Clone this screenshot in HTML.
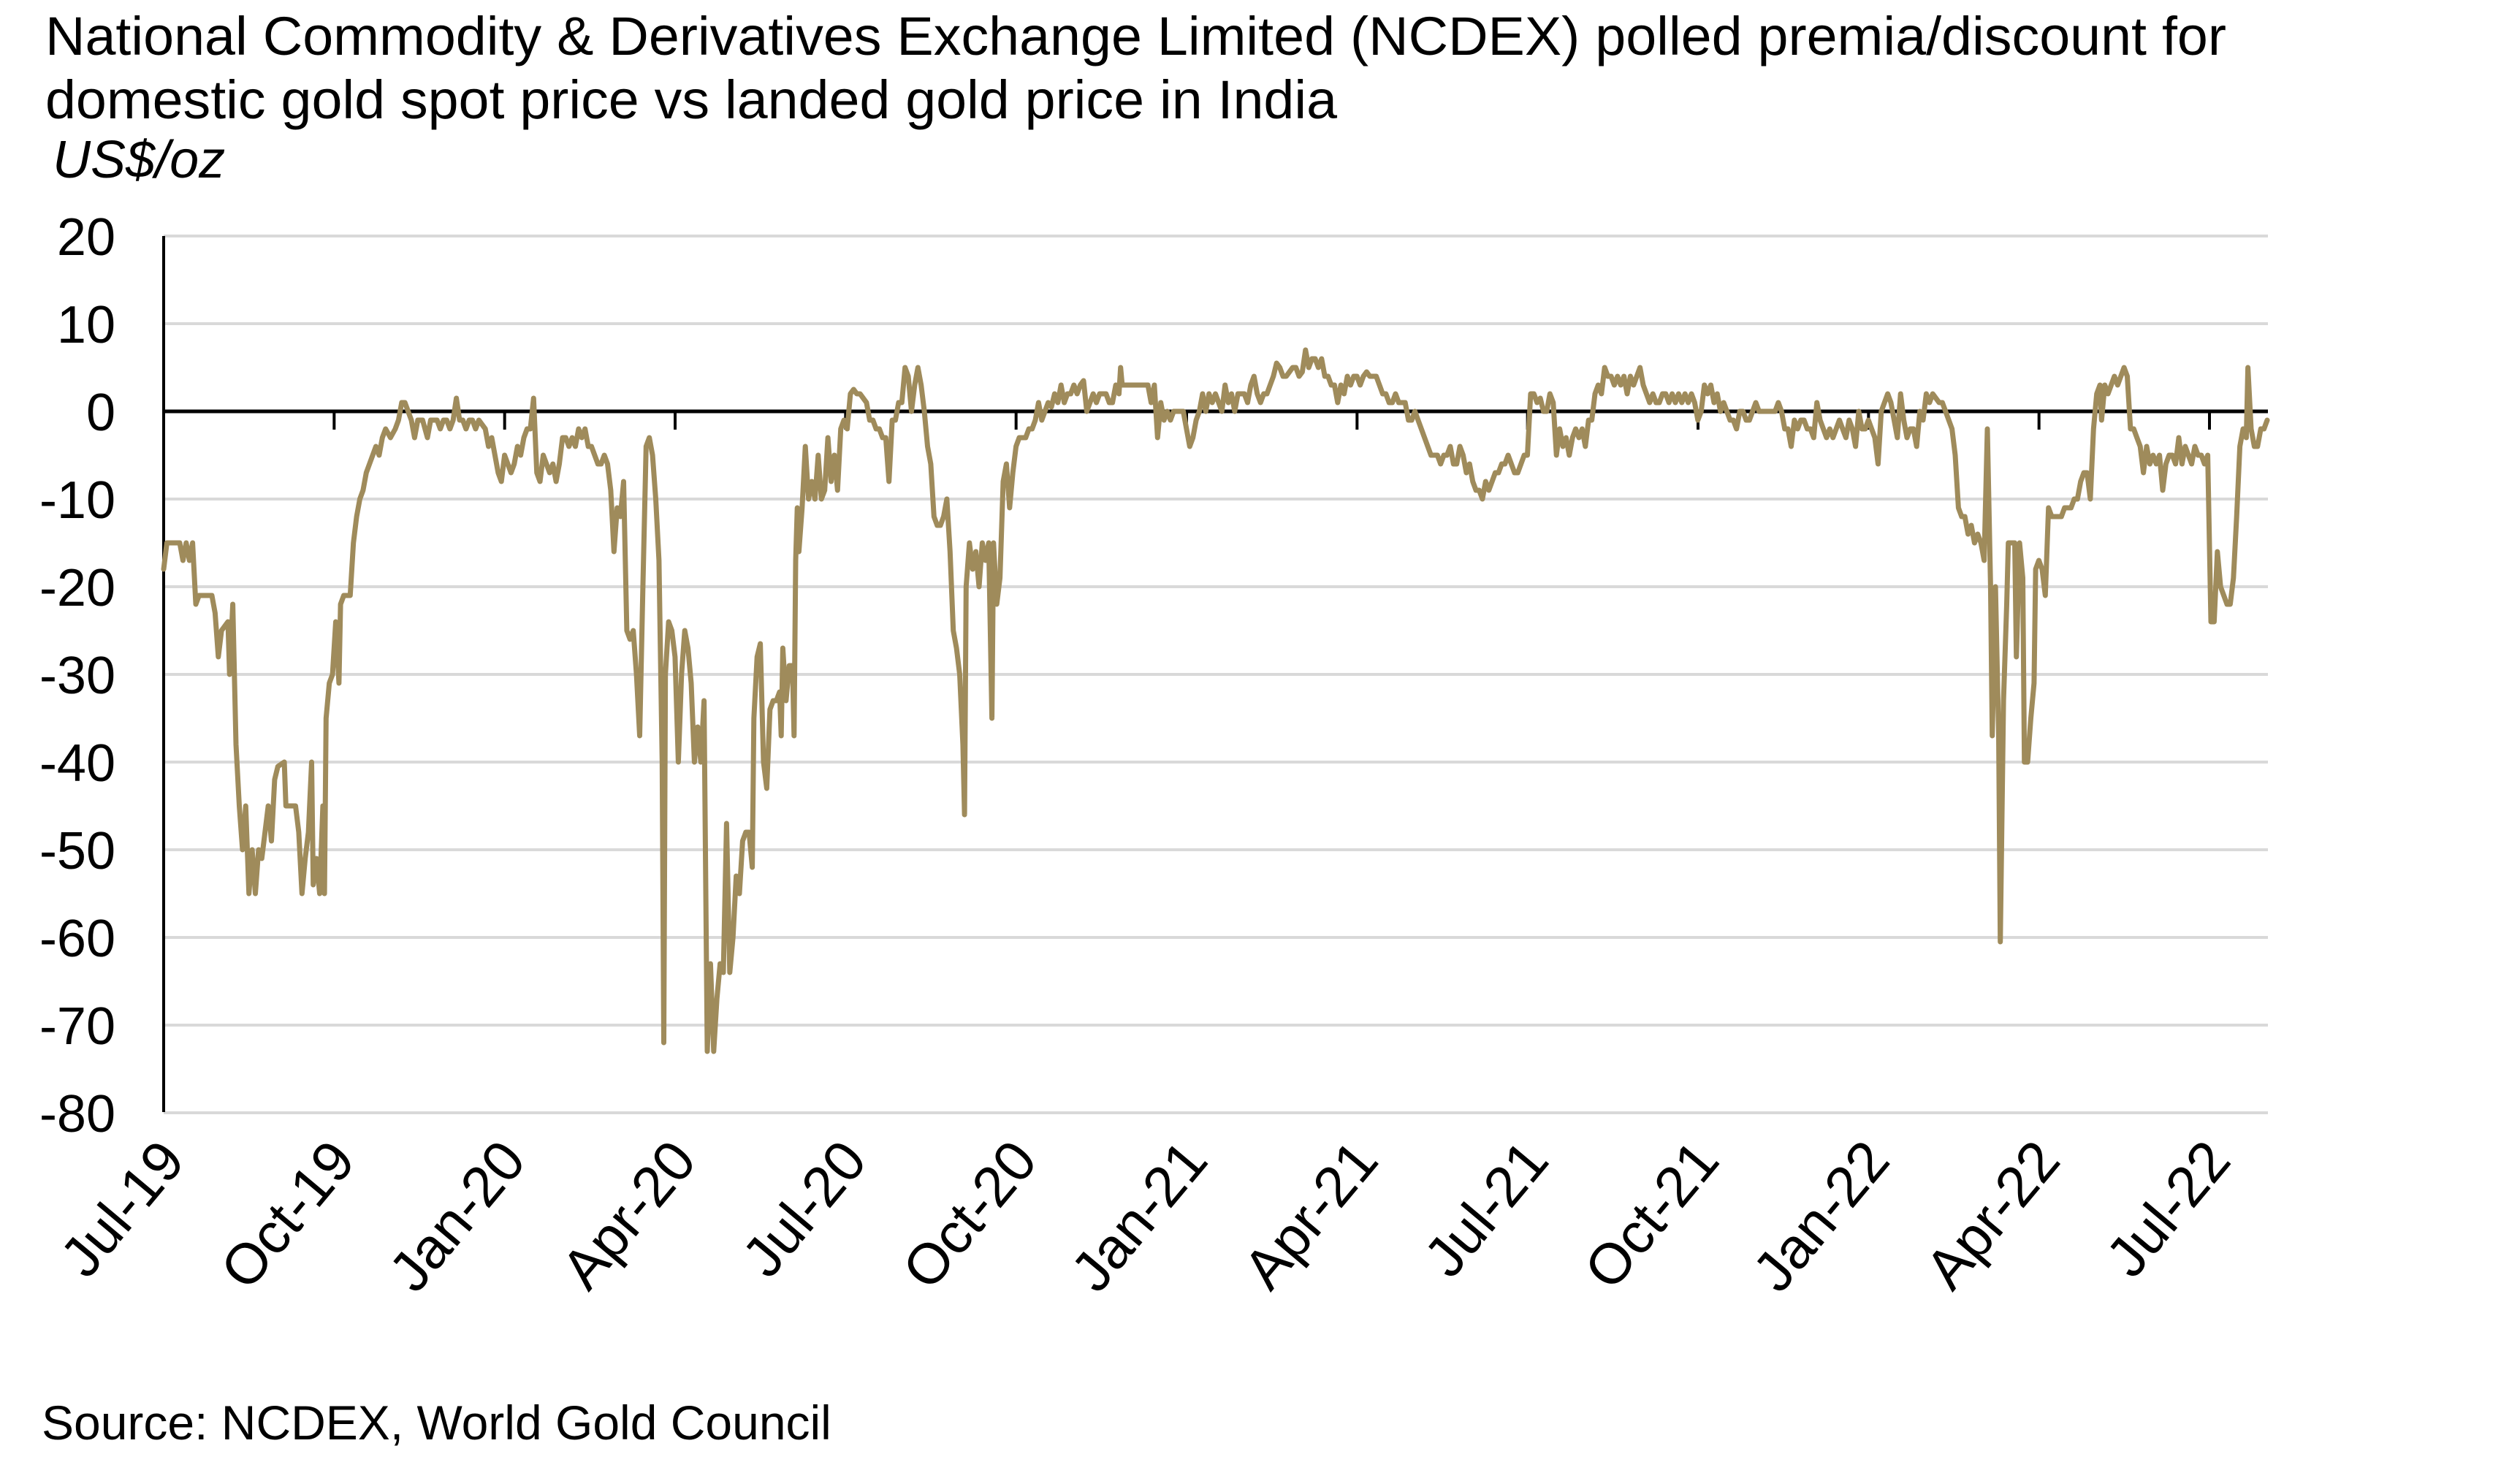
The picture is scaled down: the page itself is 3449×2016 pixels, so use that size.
<!DOCTYPE html>
<html><head><meta charset="utf-8"><style>
html,body{margin:0;padding:0;background:#fff;}
svg{display:block;font-family:"Liberation Sans",Arial,sans-serif;}
</style></head><body>
<svg id="s" width="3449" height="2016" viewBox="0 0 3449 2016" xmlns="http://www.w3.org/2000/svg">
<rect width="3449" height="2016" fill="#fff"/>
<text x="62" y="75" font-size="74" textLength="2985" lengthAdjust="spacingAndGlyphs">National Commodity &amp; Derivatives Exchange Limited (NCDEX) polled premia/discount for</text>
<text x="62" y="162" font-size="74" textLength="1768" lengthAdjust="spacingAndGlyphs">domestic gold spot price vs landed gold price in India</text>
<text x="72" y="243" font-size="72" font-style="italic">US$/oz</text>
<g id="grid" stroke="#d9d9d9" stroke-width="4"></g>
<g id="ylab" font-size="72" text-anchor="end"></g>
<line x1="224" y1="323" x2="224" y2="1522" stroke="#000" stroke-width="4"/>
<line x1="224" y1="563" x2="3104" y2="563" stroke="#000" stroke-width="5"/>
<g id="ticks" stroke="#000" stroke-width="4"></g>
<g id="xlab" font-size="78" text-anchor="end"></g>
<polyline id="ln" fill="none" stroke="#9f8b5b" stroke-width="7" stroke-linejoin="round" stroke-linecap="round"/>
<text x="57" y="1970" font-size="66">Source: NCDEX, World Gold Council</text>
</svg>
<script>
var NS="http://www.w3.org/2000/svg";
function el(t,a,p,txt){var e=document.createElementNS(NS,t);for(var k in a)e.setAttribute(k,a[k]);if(txt)e.textContent=txt;document.getElementById(p).appendChild(e);return e;}
function Y(v){return 563-12*v;}
for(var v=20;v>=-80;v-=10){ if(v!==0) el('line',{x1:224,x2:3104,y1:Y(v),y2:Y(v)},'grid'); el('text',{x:158,y:Y(v)+26},'ylab',String(v)); }
var labs=["Jul-19","Oct-19","Jan-20","Apr-20","Jul-20","Oct-20","Jan-21","Apr-21","Jul-21","Oct-21","Jan-22","Apr-22","Jul-22"];
for(var i=0;i<13;i++){var x=224+i*(3024-224)/12; el('line',{x1:x,x2:x,y1:563,y2:588},'ticks');
 var ax=x+32, ay=1590; el('text',{x:ax,y:ay,transform:'rotate(-50 '+ax+' '+ay+')'},'xlab',labs[i]);}
var d=[102,-18,104,-15,108,-15,112,-15,114,-17,116,-15,118,-17,120,-15,122,-22,124,-21,128,-21,132,-21,134,-23,136,-28,138,-25,142,-24,143,-30,145,-22,147,-38,149,-45,151,-50,153,-45,155,-55,157,-50,159,-55,161,-50,163,-51,165,-48,167,-45,169,-49,171,-42,173,-40.5,177,-40,178,-45,182,-45,184,-45,186,-48,188,-55,190,-51,192,-48,194,-40,195,-54,197,-51,199,-55,201,-45,202,-55,203,-35,205,-31,207,-30,209,-24,211,-31,212,-22,214,-21,218,-21,220,-15,222,-12,224,-10,226,-9,228,-7,232,-5,234,-4,236,-5,238,-3,240,-2,243,-3,246,-2,248,-1,250,1,252,1,254,0,256,-1,258,-3,260,-1,263,-1,266,-3,268,-1,272,-1,274,-2,276,-1,278,-1,280,-2,282,-1,284,1.5,286,-1,288,-1,290,-2,292,-1,294,-1,296,-2,298,-1,302,-2,304,-4,306,-3,308,-5,310,-7,312,-8,314,-5,316,-6,318,-7,320,-6,322,-4,324,-5,326,-3,328,-2,330,-2,332,1.5,334,-7,336,-8,338,-5,340,-6,342,-7,344,-6,346,-8,348,-6,350,-3,352,-3,354,-4,356,-3,358,-4,360,-2,362,-3,364,-2,366,-4,368,-4,370,-5,372,-6,374,-6,376,-5,378,-6,380,-9,382,-16,384,-11,386,-12,388,-8,390,-25,392,-26,394,-25,396,-30,398,-37,400,-20,402,-4,404,-3,406,-5,408,-10,410,-17,412,-40,413,-72,414,-30,416,-24,418,-25,420,-28,422,-40,424,-30,426,-25,428,-27,430,-31,432,-40,434,-36,436,-40,438,-33,440,-73,442,-63,444,-73,446,-67,448,-63,450,-64,452,-47,454,-64,456,-60,458,-53,460,-55,462,-49,464,-48,466,-48,468,-52,469,-35,471,-28,473,-26.5,475,-40,477,-43,479,-34,481,-33,483,-33,485,-32,486,-37,487,-27,489,-33,491,-29,493,-29,494,-37,495,-17,496,-11,497,-16,499,-11,501,-4,503,-10,505,-8,507,-10,509,-5,511,-10,513,-9,515,-3,517,-8,519,-5,521,-9,523,-2,525,-1,527,-2,529,2,531,2.5,533,2,535,2,537,1.5,539,1,541,-1,543,-1,545,-2,547,-2,549,-3,551,-3,553,-8,555,-1,557,-1,559,1,561,1,563,5,565,4,567,0,569,3,571,5,573,3,575,0,577,-4,579,-6,581,-12,583,-13,585,-13,587,-12,589,-10,591,-16,593,-25,595,-27,597,-30,599,-38,600,-46,601,-20,603,-15,605,-18,607,-16,609,-20,611,-15,613,-17,615,-15,617,-35,618,-15,620,-22,622,-19,624,-8,626,-6,628,-11,630,-7,632,-4,634,-3,636,-3,638,-3,640,-2,642,-2,644,-1,646,1,648,-1,650,0,652,1,654,0.5,656,2,658,1,660,3,662,1,664,2,666,2,668,3,670,2,672,3,674,3.5,676,0,678,1,680,2,682,1,684,2,686,2,688,2,690,1,692,1,694,3,696,2,697,5,698,3,700,3,704,3,708,3,712,3,714,3,716,1,718,3,720,-3,722,1,724,-1,726,0,728,-1,730,0,732,0,734,0,736,0,738,-2,740,-4,742,-3,744,-1,746,0,748,2,750,0,752,2,754,1,756,2,758,1,760,0,762,3,764,1,766,2,768,0,770,2,772,2,774,2,776,1,778,3,780,4,782,2,784,1,786,2,788,2,790,3,792,4,794,5.5,796,5,798,4,800,4,802,4.5,804,5,806,5,808,4,810,4.5,812,7,814,5,816,6,818,6,820,5,822,6,824,4,826,4,828,3,830,3,832,1,834,3,836,2,838,4,840,3,842,4,844,4,846,3,848,4,850,4.5,852,4,854,4,856,4,858,3,860,2,862,2,864,1,866,1,868,2,870,1,872,1,874,1,876,-1,878,-1,880,0,882,-1,884,-2,886,-3,888,-4,890,-5,892,-5,894,-5,896,-6,898,-5,900,-5,902,-4,904,-6,906,-6,908,-4,910,-5,912,-7,914,-6,916,-8,918,-9,920,-9,922,-10,924,-8,926,-9,928,-8,930,-7,932,-7,934,-6,936,-6,938,-5,940,-6,942,-7,944,-7,946,-6,948,-5,950,-5,952,2,954,2,956,1,958,1.5,960,0,962,0,964,2,966,1,968,-5,970,-2,972,-4,974,-3,976,-5,978,-3,980,-2,982,-3,984,-2,986,-4,988,-1,990,-1,992,2,994,3,996,2,998,5,1000,4,1002,4,1004,3,1006,4,1008,3,1010,4,1012,2,1014,4,1016,3,1018,4,1020,5,1022,3,1024,2,1026,1,1028,2,1030,1,1032,1,1034,2,1036,2,1038,1,1040,2,1042,1,1044,2,1046,1,1048,2,1050,1,1052,2,1054,1,1056,-1,1058,0,1060,3,1062,2,1064,3,1066,1,1068,2,1070,0,1072,1,1074,0,1076,-1,1078,-1,1080,-2,1082,0,1084,0,1086,-1,1088,-1,1090,0,1092,1,1094,0,1096,0,1098,0,1100,0,1102,0,1104,0,1106,1,1108,0,1110,-2,1112,-2,1114,-4,1116,-1,1118,-2,1120,-1,1122,-1,1124,-2,1126,-2,1128,-3,1130,1,1132,-1,1134,-2,1136,-3,1138,-2,1140,-3,1142,-2,1144,-1,1146,-2,1148,-3,1150,-1,1152,-2,1154,-4,1156,0,1158,-2,1160,-2,1162,-1,1164,-2,1166,-3,1168,-6,1170,0,1172,1,1174,2,1176,1,1178,-1,1180,-3,1182,2,1184,-1,1186,-3,1188,-2,1190,-2,1192,-4,1194,0,1196,-1,1198,2,1200,1,1202,2,1204,1.5,1206,1,1208,1,1210,0,1212,-1,1214,-2,1216,-5,1218,-11,1220,-12,1222,-12,1224,-14,1226,-13,1228,-15,1230,-14,1232,-15,1234,-17,1236,-2,1238,-20,1239,-37,1241,-20,1243,-37,1244,-60.5,1246,-33,1248,-22,1249,-15,1251,-15,1253,-15,1254,-28,1256,-15,1258,-19,1259,-40,1261,-40,1263,-35,1265,-31,1266,-18,1268,-17,1270,-18,1272,-21,1274,-11,1276,-12,1278,-12,1280,-12,1282,-12,1284,-11,1286,-11,1288,-11,1290,-10,1292,-10,1294,-8,1296,-7,1298,-7,1300,-10,1302,-2,1304,2,1306,3,1307,-1,1309,3,1311,2,1313,3,1315,4,1317,3,1319,4,1321,5,1323,4,1325,-2,1327,-2,1329,-3,1331,-4,1333,-7,1335,-4,1337,-6,1339,-5,1341,-6,1343,-5,1345,-9,1347,-6,1349,-5,1351,-5,1353,-6,1355,-3,1357,-6,1359,-4,1361,-5,1363,-6,1365,-4,1367,-5,1369,-5,1371,-6,1373,-5,1375,-24,1377,-24,1379,-16,1381,-20,1383,-21,1385,-22,1387,-22,1389,-19,1391,-12,1393,-4,1395,-2,1397,-3,1398,5,1400,-2,1402,-4,1404,-4,1406,-2,1408,-2,1410,-1];
var pts=[];for(var j=0;j<d.length;j+=2){pts.push((224+(d[j]-102)*2.2011).toFixed(1)+','+Y(d[j+1]).toFixed(1));}
document.getElementById('ln').setAttribute('points',pts.join(' '));
</script>
</body></html>
